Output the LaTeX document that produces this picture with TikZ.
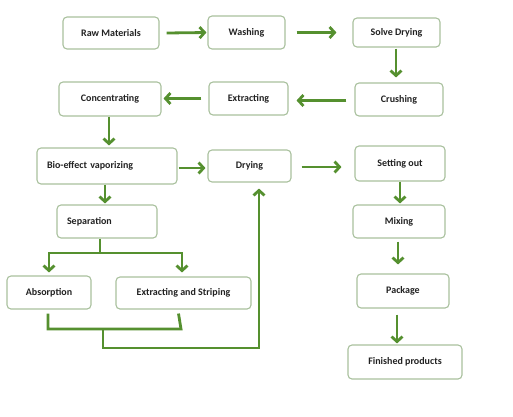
\documentclass[tikz,border=0pt]{standalone}
\usepackage{fontspec}
\setmainfont{Carlito}
\usetikzlibrary{arrows.meta}
\definecolor{arrgreen}{HTML}{55902F}
\definecolor{boxline}{HTML}{A9C19E}
\definecolor{txt}{HTML}{222222}
\begin{document}
\begin{tikzpicture}[x=1pt,y=-1pt,
  box/.style={draw=boxline,line width=1.1pt,rounded corners=4pt,fill=white,
    text=txt,font=\fontsize{10}{12}\selectfont\bfseries,inner sep=0pt},
  arr/.style={draw=arrgreen,line width=2.8pt,-{Straight Barb[length=5pt,width=11pt]}},
  ln/.style={draw=arrgreen,line width=2.8pt}]
\useasboundingbox (0,0) rectangle (513,416);
\fill[white] (0,0) rectangle (513,416);
% nodes
\node[box,minimum width=96pt,minimum height=32pt] (raw) at (111,33) {Raw Materials};
\node[box,minimum width=77pt,minimum height=33pt] (wash) at (246.5,32.5) {Washing};
\node[box,minimum width=87pt,minimum height=29pt] (solve) at (396.5,32.5) {Solve Drying};
\node[box,minimum width=102pt,minimum height=34pt] (conc) at (110,99) {Concentrating};
\node[box,minimum width=79pt,minimum height=33pt] (extr) at (248.5,98.5) {Extracting};
\node[box,minimum width=88pt,minimum height=33pt] (crush) at (399,99.5) {Crushing};
\node[box,minimum width=140pt,minimum height=36pt,text width=120pt,align=left] (bio) at (107,166) {Bio-effect vaporizing};
\node[box,minimum width=83pt,minimum height=32pt] (dry) at (249.5,166) {Drying};
\node[box,minimum width=90pt,minimum height=35pt] (set) at (400,163.5) {Setting out};
\node[box,minimum width=100pt,minimum height=33pt,text width=80pt,align=left] (sep) at (107,221.5) {Separation};
\node[box,minimum width=92pt,minimum height=33pt] (mix) at (399,221.5) {Mixing};
\node[box,minimum width=92pt,minimum height=34pt] (pack) at (403,291) {Package};
\node[box,minimum width=114pt,minimum height=34pt] (fin) at (405,362) {Finished products};
\node[box,minimum width=84pt,minimum height=33pt] (abs) at (49,292.5) {Absorption};
\node[box,minimum width=135pt,minimum height=32pt] (ext2) at (183.5,293) {Extracting and Striping};
% connectors
\draw[arr] ([xshift=7pt]raw.east) -- ([xshift=-1pt]wash.west);
\draw[arr] ([xshift=11pt]wash.east) -- ([xshift=-16pt]solve.west);
\draw[arr] ([xshift=-0.5pt,yshift=-1pt]solve.south) -- ([xshift=-0.5pt,yshift=5pt]solve.south |- crush.north);
\draw[arr] ([xshift=-8pt,yshift=-1pt]crush.west) -- ([xshift=8pt,yshift=-1pt]crush.west -| extr.east);
\draw[arr] ([xshift=-7pt]extr.west) -- ([xshift=2pt]extr.west -| conc.east);
\draw[arr] ([xshift=-1pt]conc.south) -- ([xshift=-1pt,yshift=2pt]conc.south |- bio.north);
\draw[arr] ([xshift=1pt,yshift=-2pt]bio.east) -- ([xshift=-2pt,yshift=-2pt]bio.east -| dry.west);
\draw[arr] ([xshift=10pt,yshift=-1pt]dry.east) -- ([xshift=-13pt,yshift=-1pt]dry.east -| set.west);
\draw[arr] ([xshift=-2pt]bio.south) -- ([xshift=-2pt,yshift=1pt]bio.south |- sep.north);
\draw[arr] (set.south) -- ([yshift=1pt]set.south |- mix.north);
\draw[arr] ([xshift=-1pt,yshift=-3pt]mix.south) -- ([xshift=-1pt,yshift=9pt]mix.south |- pack.north);
\draw[arr] ([xshift=-6pt,yshift=-6pt]pack.south) -- ([xshift=-6pt,yshift=1pt]pack.south |- fin.north);
% separation branch
\coordinate (sb) at ([xshift=-7pt]sep.south);
\coordinate (sj) at (100,253);
\draw[ln] (sb) -- (sj);
\draw[arr] (sj) -| ([yshift=3pt]abs.north);
\draw[arr] (sj) -| ([xshift=-1.5pt,yshift=4pt]ext2.north);
% join below
\coordinate (jr) at (181,329);
\coordinate (jm) at (103,329);
\draw[ln] ([xshift=-1pt,yshift=-4pt]abs.south) |- (jr) -- ([xshift=-2.5pt,yshift=-4pt]ext2.south -| jr);
\draw[arr] (jm) |- (259,348) -- ([xshift=9.5pt,yshift=-6pt]dry.south);
\end{tikzpicture}
\end{document}
